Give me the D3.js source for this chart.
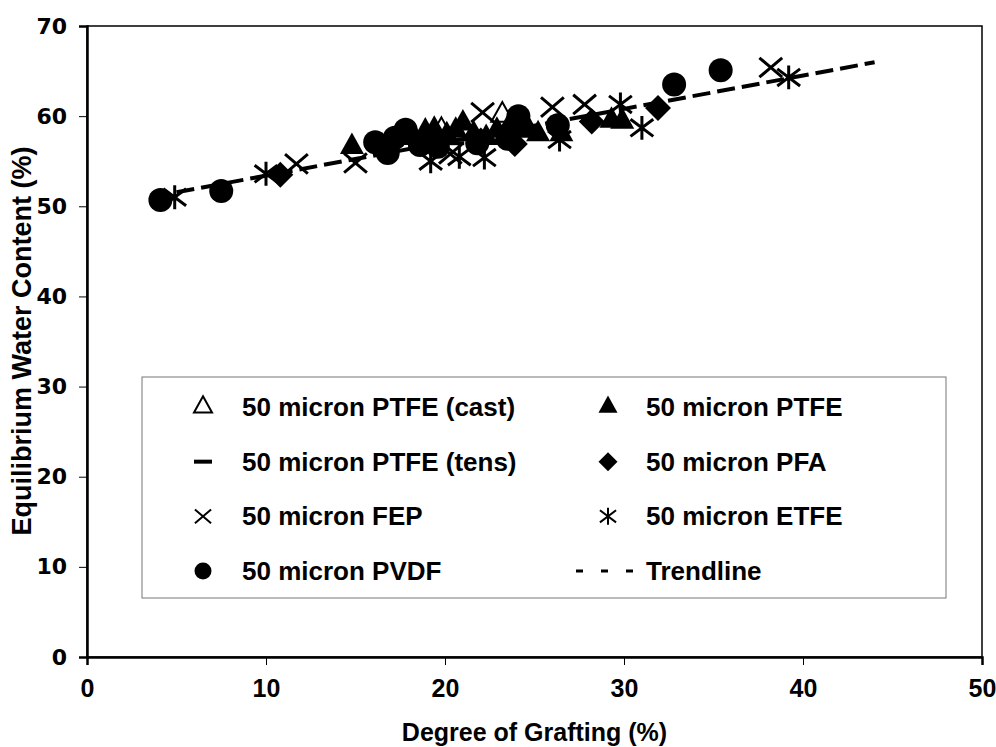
<!DOCTYPE html>
<html>
<head>
<meta charset="utf-8">
<script src="https://cdn.jsdelivr.net/npm/d3@7"></script>
<style>
  body { margin: 0; background: #fff; }
  svg text { font-family: "Liberation Sans", Arial, sans-serif; font-weight: bold; fill: #000; }
</style>
</head>
<body>
<div class="importChart"></div>
<script>
// grafting series, [degree of grafting %, water content %]
var ptfeCast = [[19.8, 58.4], [23.2, 60.1]];
var ptfe = [[14.8, 56.6], [18.3, 57.6], [18.9, 58.3], [19.4, 58.5], [20.1, 57.9], [20.6, 58.4],
            [21.0, 59.2], [21.6, 58.0], [22.3, 57.6], [22.9, 58.4], [23.5, 58.6], [24.2, 58.5],
            [24.7, 58.4], [25.2, 58.0], [26.5, 58.0], [29.3, 59.5], [29.9, 59.4]];
var ptfeTens = [[20.6, 57.0], [22.6, 57.3], [24.4, 58.0]];
var pfa = [[10.8, 53.5], [22.0, 57.3], [23.9, 56.9], [28.2, 59.4], [31.9, 60.9]];
var fep = [[11.7, 54.7], [15.0, 54.8], [20.3, 55.8], [22.1, 60.4], [26.0, 61.0], [27.8, 61.3], [38.2, 65.4]];
var etfe = [[4.9, 51.0], [10.0, 53.6], [19.2, 55.0], [20.8, 55.5], [22.2, 55.4], [26.4, 57.4],
            [29.8, 61.3], [31.0, 58.7], [39.2, 64.3]];
var pvdf = [[4.1, 50.7], [7.5, 51.7], [16.1, 57.1], [16.8, 55.9], [17.2, 57.6], [17.8, 58.5],
            [18.6, 56.8], [19.6, 56.6], [21.8, 57.0], [23.5, 57.5], [24.1, 60.0], [26.3, 59.0],
            [32.8, 63.5], [35.4, 65.1]];

// linear trendline and its x range
var trendSlope = 0.37, trendIntercept = 49.7;
var trendRange = [5, 44];

var xTicks = [0, 10, 20, 30, 40, 50];
var yTicks = [0, 10, 20, 30, 40, 50, 60, 70];

var legendLeft = ["50 micron PTFE (cast)", "50 micron PTFE (tens)", "50 micron FEP", "50 micron PVDF"];
var legendRight = ["50 micron PTFE", "50 micron PFA", "50 micron ETFE", "Trendline"];

var width = 996, height = 747;
var margin = { top: 26, right: 14, bottom: 90, left: 87 };

var svg = d3.select(".importChart")
    .append("svg")
    .attr("width", width)
    .attr("height", height);

var x = d3.scaleLinear().domain([0, 50]).range([margin.left, width - margin.right]);
var y = d3.scaleLinear().domain([0, 70]).range([height - margin.bottom, margin.top]);

// marker shapes, s = overall size in px
function markerPath(kind, s) {
    var r = s / 2;
    if (kind == "circle") {
        return d3.symbol().type(d3.symbolCircle).size(Math.PI * r * r)();
    }
    if (kind == "triangle") {
        var h = s * 0.9;
        return "M0," + (-h * 2 / 3) + "L" + r + "," + (h / 3) + "L" + (-r) + "," + (h / 3) + "Z";
    }
    if (kind == "diamond") {
        return "M0," + (-r) + "L" + r + ",0L0," + r + "L" + (-r) + ",0Z";
    }
    if (kind == "x") {
        var q = r * 0.95;
        return "M" + (-q) + "," + (-q * 0.85) + "L" + q + "," + (q * 0.85) +
               "M" + (-q) + "," + (q * 0.85) + "L" + q + "," + (-q * 0.85);
    }
    if (kind == "asterisk") {
        var a = r * 0.95;
        return "M" + (-a) + "," + (-a * 0.75) + "L" + a + "," + (a * 0.75) +
               "M" + (-a) + "," + (a * 0.75) + "L" + a + "," + (-a * 0.75) +
               "M0," + (-a * 1.05) + "L0," + (a * 1.05);
    }
    if (kind == "dash") {
        return "M" + (-r) + ",-2L" + r + ",-2L" + r + ",2L" + (-r) + ",2Z";
    }
}

function styleMarker(sel, kind, lw) {
    if (kind == "x" || kind == "asterisk") {
        sel.style("fill", "none").style("stroke", "#000").style("stroke-width", lw);
    } else if (kind == "open") {
        sel.style("fill", "#fff").style("stroke", "#000").style("stroke-width", 2);
    } else {
        sel.style("fill", "#000").style("stroke", "none");
    }
}

var series = [
    { data: ptfeCast, shape: "triangle", style: "open", size: 22 },
    { data: ptfe, shape: "triangle", style: "fill", size: 24 },
    { data: pvdf, shape: "circle", style: "fill", size: 24 },
    { data: pfa, shape: "diamond", style: "fill", size: 26 },
    { data: ptfeTens, shape: "dash", style: "fill", size: 17 },
    { data: fep, shape: "x", style: "x", size: 24 },
    { data: etfe, shape: "asterisk", style: "asterisk", size: 24 }
];

series.forEach(function (s) {
    var g = svg.append("g");
    var p = g.selectAll("path")
        .data(s.data)
        .enter().append("path")
        .attr("transform", function (d) { return "translate(" + x(d[0]) + "," + y(d[1]) + ")"; })
        .attr("d", markerPath(s.shape, s.size));
    styleMarker(p, s.style, 3);
});

// trendline drawn over the points
var trendLine = d3.line()
    .x(function (d) { return x(d); })
    .y(function (d) { return y(trendSlope * d + trendIntercept); });

svg.append("path")
    .datum(trendRange)
    .attr("d", trendLine)
    .style("fill", "none")
    .style("stroke", "#000")
    .style("stroke-width", 4)
    .style("stroke-dasharray", "18,7");

// plot frame
svg.append("rect")
    .attr("x", x(0)).attr("y", y(70))
    .attr("width", x(50) - x(0)).attr("height", y(0) - y(70))
    .style("fill", "none").style("stroke", "#000").style("stroke-width", 1.5);

var xAxis = svg.append("g")
    .attr("transform", "translate(0," + y(0) + ")")
    .call(d3.axisBottom(x).tickValues(xTicks).tickSize(8).tickPadding(14).tickFormat(d3.format("d")));
xAxis.select(".domain").style("stroke-width", 2.5);
xAxis.selectAll(".tick line").style("stroke-width", 1);
xAxis.selectAll("text")
    .style("font-size", "25px")
    .style("font-family", "'Liberation Sans', Arial, sans-serif")
    .style("font-weight", "bold");

var yAxis = svg.append("g")
    .attr("transform", "translate(" + x(0) + ",0)")
    .call(d3.axisLeft(y).tickValues(yTicks).tickSize(8).tickPadding(12).tickFormat(d3.format("d")));
yAxis.select(".domain").style("stroke-width", 2.5);
yAxis.selectAll(".tick line").style("stroke-width", 1);
yAxis.selectAll("text")
    .style("font-size", "22px")
    .style("font-family", "'DejaVu Sans', sans-serif")
    .style("font-weight", "bold");

svg.append("text")
    .attr("x", (x(0) + x(50)) / 2)
    .attr("y", 741)
    .attr("text-anchor", "middle")
    .style("font-size", "25px")
    .text("Degree of Grafting (%)");

svg.append("text")
    .attr("transform", "translate(31,341) rotate(-90)")
    .attr("text-anchor", "middle")
    .style("font-size", "27px")
    .text("Equilibrium Water Content (%)");

// legend box
var legend = svg.append("g");
legend.append("rect")
    .attr("x", 142).attr("y", 377)
    .attr("width", 804).attr("height", 221)
    .style("fill", "#fff").style("stroke", "#777").style("stroke-width", 1);

var rowY = d3.scalePoint().domain(d3.range(4)).range([407, 571]);

var leftKinds = [["triangle", "open", 18], ["dash", "fill", 18], ["x", "x", 17], ["circle", "fill", 17]];
var rightKinds = [["triangle", "fill", 19], ["diamond", "fill", 19], ["asterisk", "asterisk", 17], null];

legendLeft.forEach(function (t, i) {
    var k = leftKinds[i];
    var m = legend.append("path")
        .attr("transform", "translate(203," + rowY(i) + ")")
        .attr("d", markerPath(k[0], k[2]));
    styleMarker(m, k[1], 2);
    legend.append("text")
        .attr("x", 242).attr("y", rowY(i) + 9)
        .style("font-size", "26px")
        .text(t);
});

legendRight.forEach(function (t, i) {
    var k = rightKinds[i];
    if (k) {
        var m = legend.append("path")
            .attr("transform", "translate(608," + rowY(i) + ")")
            .attr("d", markerPath(k[0], k[2]));
        styleMarker(m, k[1], 2);
    } else {
        legend.append("line")
            .attr("x1", 576).attr("x2", 634)
            .attr("y1", rowY(i)).attr("y2", rowY(i))
            .style("stroke", "#000").style("stroke-width", 3)
            .style("stroke-dasharray", "7,18");
    }
    legend.append("text")
        .attr("x", 646).attr("y", rowY(i) + 9)
        .style("font-size", "26px")
        .text(t);
});
</script>
</body>
</html>
